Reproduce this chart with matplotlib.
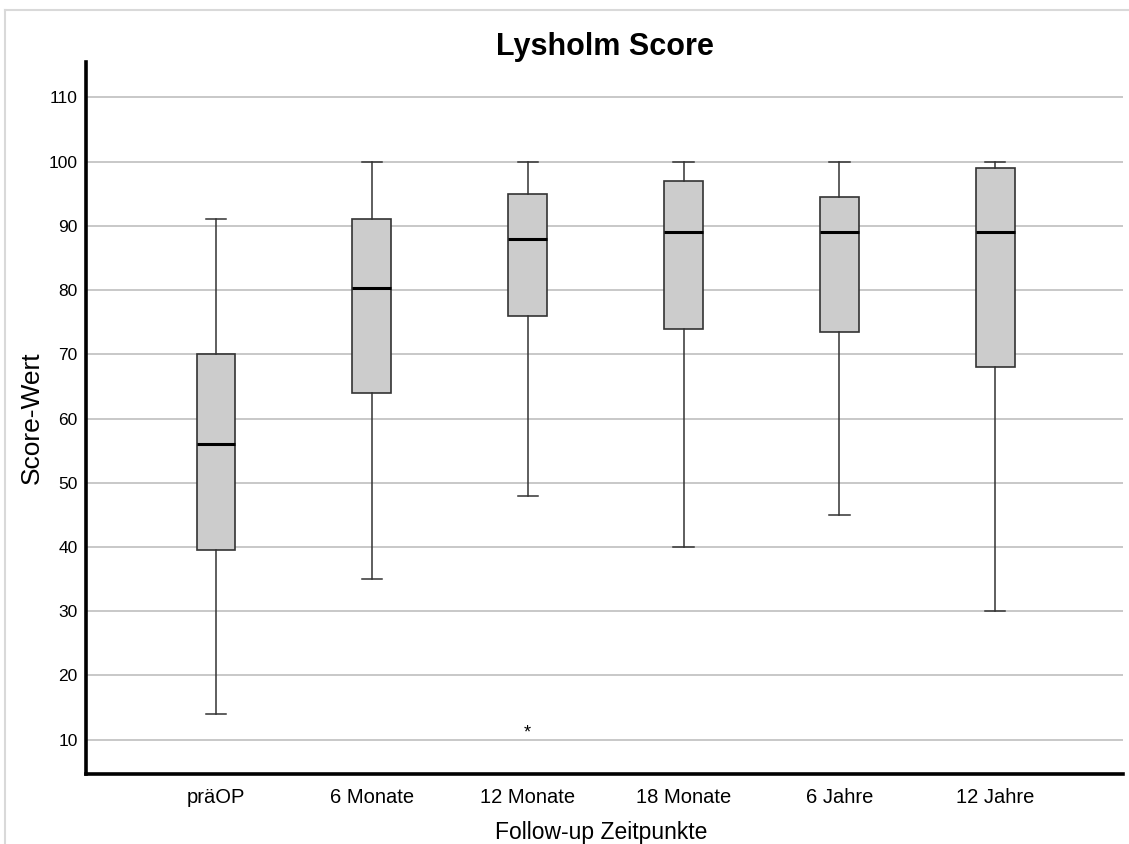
import matplotlib.pyplot as plt
from matplotlib.lines import Line2D

plt.rcParams['font.family'] = ['Liberation Sans', 'DejaVu Sans']

# =========================
# DATA
# =========================
groups = ["präOP", "6 Monate", "12 Monate", "18 Monate", "6 Jahre", "12 Jahre"]
whisker_low = [14, 35, 48, 40, 45, 30]
q1 = [39.5, 64, 76, 74, 73.5, 68]
median = [56, 80.3, 88, 89, 89, 89]
q3 = [70, 91, 95, 97, 94.5, 99]
whisker_high = [91, 100, 100, 100, 100, 100]
outliers = [[], [], [11], [], [], []]

yticks = [10, 20, 30, 40, 50, 60, 70, 80, 90, 100, 110]

# =========================
# PLOT
# =========================
fig = plt.figure(figsize=(11.29, 8.44), dpi=100)
ax = fig.add_axes([0.0762, 0.0832, 0.9185, 0.8433])

stats = []
for i, g in enumerate(groups):
    stats.append({
        "label": g,
        "whislo": whisker_low[i],
        "q1": q1[i],
        "med": median[i],
        "q3": q3[i],
        "whishi": whisker_high[i],
        "fliers": outliers[i],
    })

positions = list(range(1, len(groups) + 1))
ax.bxp(
    stats,
    positions=positions,
    widths=0.25,
    patch_artist=True,
    showfliers=False,
    boxprops=dict(facecolor="#cccccc", edgecolor="#333333", linewidth=1.2),
    medianprops=dict(color="black", linewidth=2.2),
    whiskerprops=dict(color="#333333", linewidth=1.1),
    capprops=dict(color="#333333", linewidth=1.1),
    capwidths=0.13,
    zorder=3,
)

# outliers drawn as stars (SPSS style)
for pos, pts in zip(positions, outliers):
    for v in pts:
        ax.text(pos, v, "*", ha="center", va="center", fontsize=13, zorder=4)

ax.set_xlim(0.166, 6.82)
ax.set_ylim(4.7, 115.5)
ax.set_yticks(yticks)
ax.set_xticks(positions)
ax.set_xticklabels(groups, fontsize=14.5)
ax.tick_params(axis="y", labelsize=12.5, length=0, pad=6)
ax.tick_params(axis="x", length=0, pad=10)

ax.yaxis.grid(True, color="#bfbfbf", linewidth=1.2, zorder=0)
ax.set_axisbelow(True)

for side in ["top", "right"]:
    ax.spines[side].set_visible(False)
ax.spines["left"].set_linewidth(2.6)
ax.spines["bottom"].set_linewidth(2.6)

ax.set_title("Lysholm Score", fontsize=22, fontweight="bold", pad=3)
ax.set_ylabel("Score-Wert", fontsize=19)
ax.yaxis.set_label_coords(-0.041, 0.5)
ax.set_xlabel("Follow-up Zeitpunkte", fontsize=16.5)
ax.xaxis.set_label_coords(0.497, -0.067)

# light frame around the chart
fig.add_artist(Line2D([5 / 1129, 5 / 1129], [0, 1 - 10 / 844],
                      color="#d9d9d9", linewidth=1.5, transform=fig.transFigure))
fig.add_artist(Line2D([5 / 1129, 1], [1 - 10 / 844, 1 - 10 / 844],
                      color="#d9d9d9", linewidth=1.5, transform=fig.transFigure))

fig.savefig("out.png", dpi=100)
